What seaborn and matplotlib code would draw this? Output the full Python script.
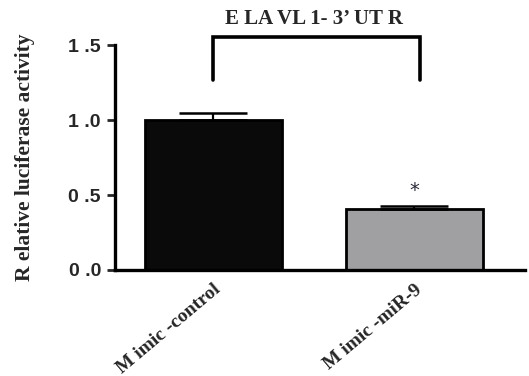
import pandas as pd
import matplotlib
matplotlib.use("Agg")
import matplotlib.pyplot as plt
import seaborn as sns

# dados
grupos = ["M imic -control", "M imic -miR-9"]
atividade = [1.00, 0.41]
erro = [0.05, 0.02]
cores = ["#0a0a0a", "#a0a0a3"]
titulo = "E LA VL 1- 3’ UT R"

sns.set_theme(style="white")
plt.rcParams["font.family"] = ["DejaVu Sans"]

df = pd.DataFrame({"Grupo": grupos, "Atividade": atividade})

fig = plt.figure(figsize=(5.29, 3.76), dpi=100)
ax = fig.add_axes([0.217, 0.282, 0.775, 0.598])

sns.barplot(data=df, x="Grupo", y="Atividade", hue="Grupo", palette=cores,
            width=0.68, errorbar=None, legend=False, ax=ax,
            edgecolor="black", linewidth=2)

ax.errorbar(range(len(grupos)), atividade, yerr=[[0, 0], erro], fmt="none",
            ecolor="black", elinewidth=1.6, capsize=24.5, capthick=1.8, zorder=3)

ax.set_ylim(0, 1.5)
ax.set_xlim(-0.49, 1.55)
ax.set_yticks([0.0, 0.5, 1.0, 1.5])
ax.set_yticklabels(["0 .0", "0 .5", "1 .0", "1 .5"], fontsize=14,
                   fontweight="bold", family="Liberation Sans")
ax.set_xticks([0, 1])
ax.set_xticklabels(grupos, rotation=40, ha="right", rotation_mode="anchor",
                   fontsize=14, fontweight="bold", family="Liberation Serif")
ax.tick_params(axis="y", direction="out", length=6, width=2, left=True, pad=4)
ax.tick_params(axis="x", length=0, pad=8)

for lado in ["top", "right"]:
    ax.spines[lado].set_visible(False)
for lado in ["left", "bottom"]:
    ax.spines[lado].set_linewidth(2.4)
    ax.spines[lado].set_color("black")

ax.set_xlabel("")
ax.set_ylabel("R elative luciferase activity", fontsize=15.5, fontweight="bold",
              family="Liberation Serif", labelpad=24)

# colchete e asterisco
ax.plot([0, 0, 1.03, 1.03], [1.27, 1.553, 1.553, 1.27], color="black",
        lw=2.6, clip_on=False, solid_joinstyle="miter")
ax.text(0.5, 1.61, titulo, ha="center", va="bottom", fontsize=15,
        fontweight="bold", family="Liberation Serif")
ax.text(1, 0.47, "*", ha="center", va="bottom", fontsize=14, color="#2a2a3a")

fig.savefig("out.png", dpi=100)
